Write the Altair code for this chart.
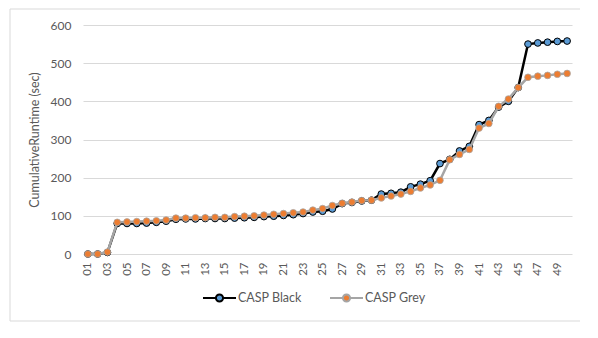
import altair as alt
import pandas as pd

categories = [f"{i:02d}" for i in range(1, 51)]
series_names = ["CASP Black", "CASP Grey"]

black = [0, 0, 4, 80, 80, 80, 81, 83, 86, 91,
         92, 92, 93, 93, 93, 94, 95, 96, 98, 99,
         101, 103, 106, 110, 112, 118, 132, 135, 139, 141,
         157, 159, 162, 176, 183, 192, 237, 248, 270, 282,
         339, 350, 385, 400, 436, 550, 553, 555, 557, 558]
grey = [0, 0, 5, 83, 84, 85, 86, 87, 89, 94,
        94, 95, 95, 96, 96, 98, 99, 100, 102, 104,
        106, 108, 110, 115, 119, 127, 133, 136, 140, 141,
        147, 152, 157, 164, 173, 181, 193, 247, 261, 274,
        330, 342, 387, 406, 436, 463, 466, 468, 471, 473]
y_ticks = [0, 100, 200, 300, 400, 500, 600]

df = pd.DataFrame({
    "Run": categories * 2,
    "Series": [series_names[0]] * len(black) + [series_names[1]] * len(grey),
    "Runtime": black + grey,
})

FONT = "Lato"
TXT = "#595959"
GRID = "#D9D9D9"

x_enc = alt.X(
    "Run:O",
    sort=categories,
    scale=alt.Scale(type="point", padding=0.5),
    axis=alt.Axis(title=None, values=categories[::2], labelAngle=270,
                  labelPadding=8, ticks=False, domain=False, grid=False,
                  labelFont=FONT, labelFontSize=11.5, labelColor=TXT),
)
y_enc = alt.Y(
    "Runtime:Q",
    scale=alt.Scale(domain=[0, 600], nice=False),
    axis=alt.Axis(title="CumulativeRuntime (sec)", values=y_ticks, grid=True,
                  gridColor=GRID, gridWidth=1, domain=False, ticks=False,
                  labelPadding=12, titlePadding=9, labelFont=FONT,
                  labelFontSize=12, labelColor=TXT, titleFont=FONT,
                  titleFontSize=12.5, titleFontWeight="normal", titleColor=TXT),
)

SYMBOL = ("M-3,0L-0.65,0M0.65,0L3,0"
          "M-0.65,0A0.65,0.65,0,1,1,0.65,0A0.65,0.65,0,1,1,-0.65,0Z")
leg = alt.Legend(title=None, orient="none", legendX=130, legendY=266,
                 direction="horizontal", symbolType=SYMBOL, symbolSize=121,
                 symbolStrokeWidth=2, labelOffset=12, columnPadding=24,
                 labelFont=FONT, labelFontSize=12.5, labelColor=TXT,
                 padding=0)

fill_enc = alt.Fill("Series:N", scale=alt.Scale(domain=series_names, range=["#5B9BD5", "#ED7D31"]), legend=leg)
stroke_enc = alt.Stroke("Series:N", scale=alt.Scale(domain=series_names, range=["#000000", "#A5A5A5"]), legend=leg)

base = alt.Chart(df)

line_b = base.transform_filter(alt.datum.Series == series_names[0]).mark_line(
    stroke="#000000", strokeWidth=2.5).encode(x=x_enc, y=y_enc)
pt_b = base.transform_filter(alt.datum.Series == series_names[0]).mark_point(
    filled=True, size=45, opacity=1, strokeWidth=1).encode(
    x=x_enc, y=y_enc, fill=fill_enc, stroke=stroke_enc)
line_g = base.transform_filter(alt.datum.Series == series_names[1]).mark_line(
    stroke="#A5A5A5", strokeWidth=2.5).encode(x=x_enc, y=y_enc)
pt_g = base.transform_filter(alt.datum.Series == series_names[1]).mark_point(
    filled=True, size=45, opacity=1, strokeWidth=0.75).encode(
    x=x_enc, y=y_enc, fill=fill_enc, stroke=stroke_enc)

frame = alt.Chart(pd.DataFrame({"k": [0]})).mark_rect(
    fill="transparent", stroke=GRID, strokeWidth=1).encode(
    x=alt.value(-73), x2=alt.value(504), y=alt.value(-16), y2=alt.value(296))

chart = alt.layer(frame, line_b, pt_b, line_g, pt_g).properties(
    width=489, height=229,
    autosize=alt.AutoSizeParams(type="none"),
    padding={"left": 75, "top": 17, "right": 8, "bottom": 70},
    background="white",
).configure_view(stroke=None)

chart.save("out.html", embed_options={"renderer": "svg", "actions": False})
